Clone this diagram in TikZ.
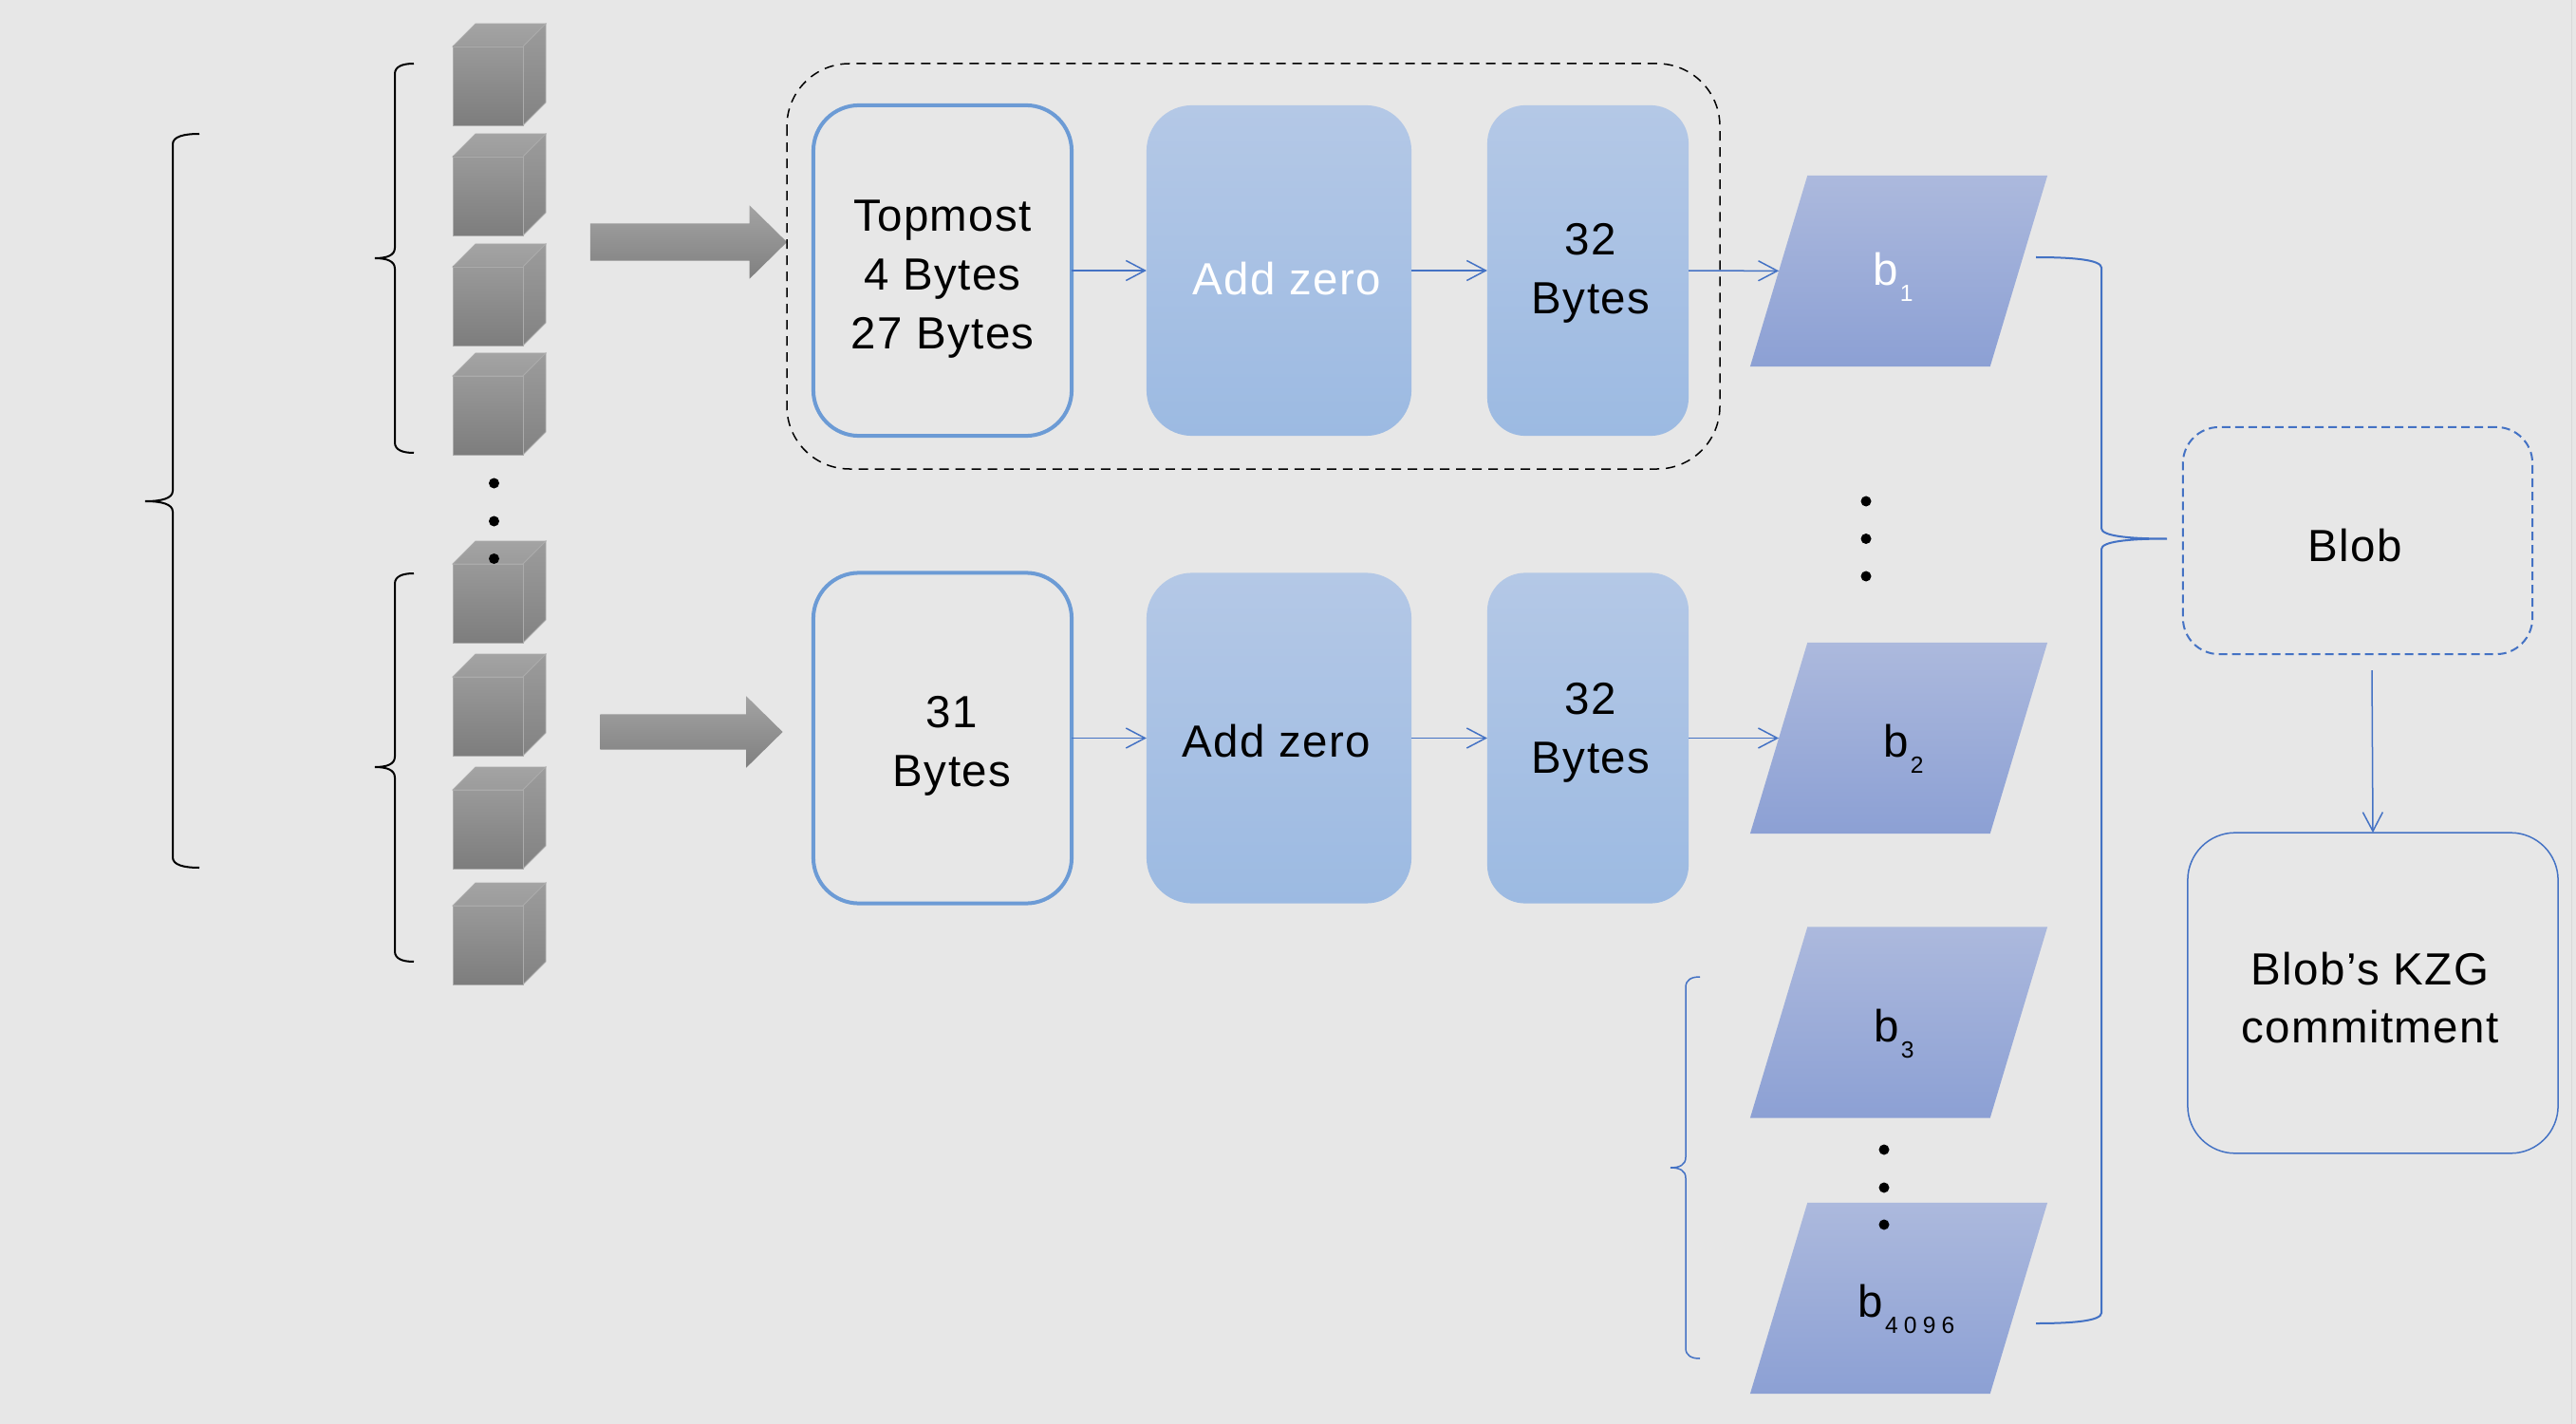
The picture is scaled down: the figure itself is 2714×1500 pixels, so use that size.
\documentclass[tikz,border=0pt]{standalone}
\usepackage{fontspec}
\setmainfont{Liberation Sans}[LetterSpace=3]
\usetikzlibrary{shapes.geometric}
\usetikzlibrary{shapes.arrows}
\usetikzlibrary{arrows.meta}

\definecolor{pagegray}{HTML}{E7E7E7}
\definecolor{linkblue}{HTML}{4472C4}
\definecolor{edgeblue}{HTML}{6C9BD5}
\definecolor{fillTop}{HTML}{B4C8E6}
\definecolor{fillBot}{HTML}{9CBAE2}
\definecolor{chunkTop}{HTML}{ACB9DD}
\definecolor{chunkBot}{HTML}{8CA0D4}

\tikzset{
    cube/.pic = {
        \path[top color = black!36, bottom color = black!39, draw = black!33, line width = 0.008cm] (0,24) -- (24,0) -- (98,0) -- (74,24) -- cycle;
        \path[top color = black!39, bottom color = black!49, draw = black!33, line width = 0.008cm] (74,24) -- (98,0) -- (98,83) -- (74,107) -- cycle;
        \path[top color = black!40, bottom color = black!51, draw = black!33, line width = 0.008cm] (0,24) rectangle (74,107);
    }
}

\newcommand{\bracepath}[7][]{
    \draw[#1] ({#2+#4},#5) .. controls ({#2+#4*0.4},#5) and (#2,{#5+3}) .. (#2,{#5+11})
        -- (#2,{#6-11}) .. controls (#2,{#6-3}) and ({#2+#3*0.4},#6) .. ({#2+#3},#6)
        .. controls ({#2+#3*0.4},#6) and (#2,{#6+3}) .. (#2,{#6+11})
        -- (#2,{#7-11}) .. controls (#2,{#7-3}) and ({#2+#4*0.4},#7) .. ({#2+#4},#7);
}
\newcommand{\subidx}[1]{\hspace{0.6pt}\raisebox{-4.8pt}{\fontsize{7}{8}\selectfont\addfontfeature{LetterSpace=25}#1}}

\begin{document}
\begin{tikzpicture}[
        x = 0.01cm, y = -0.01cm,
        font = \fontsize{13.5}{17.6}\selectfont,
        >={Straight Barb[length = 0.2cm, width = 0.21cm]},
        txt/.style = {align = center, inner sep = 0},
        whitebox/.style = {shape = rectangle, draw = edgeblue, line width = 0.04cm, rounded corners = 0.48cm, minimum width = 2.72cm, minimum height = 3.48cm, inner sep = 0, outer sep = 0},
        addbox/.style = {shape = rectangle, rounded corners = 0.48cm, minimum width = 2.79cm, minimum height = 3.48cm, inner sep = 0, outer sep = 0, top color = fillTop, bottom color = fillBot},
        sizebox/.style = {addbox, rounded corners = 0.4cm, minimum width = 2.12cm},
        chunk/.style = {shape = trapezium, trapezium left angle = 72.6, trapezium right angle = 107.4, top color = chunkTop, bottom color = chunkBot, minimum width = 3.13cm, minimum height = 2.01cm, inner sep = 0.1cm, outer sep = 0, trapezium stretches = true},
        bigarrow/.style = {shape = single arrow, top color = black!36, bottom color = black!50, minimum width = 0.76cm, single arrow head extend = 0.19cm, single arrow tip angle = 89, single arrow head indent = 0, inner xsep = 0, inner ysep = 0.19cm, outer sep = 0},
        flow/.style = {->, draw = linkblue, line width = 0.015cm},
        dotmark/.style = {shape = circle, fill = black, minimum size = 0.11cm, inner sep = 0},
    ]
    \useasboundingbox (0,0) rectangle (2714,1500);
    \fill[pagegray] (0,0) rectangle (2714,1500);
    \fill[black!15] (2708.5,0) rectangle (2710,1500);

    \foreach \cy in {25,141,257,372,570,689,808,930}
        \pic at (477,\cy) {cube};
    \foreach \dy in {509,549,588.5}
        \node[dotmark] at (520.5,\dy) {};

    \bracepath[black, line width = 0.02cm]{182}{-29}{28}{141}{528}{914}
    \bracepath[black, line width = 0.02cm]{416}{-21}{20}{67}{272}{477}
    \bracepath[black, line width = 0.02cm]{416}{-21}{20}{604}{808}{1013}

    \node[bigarrow, minimum height = 2.07cm] (pushA) at (715.5,255) {};
    \node[bigarrow, minimum height = 1.92cm, minimum width = 0.74cm, inner ysep = 0.18cm] (pushB) at (719,771) {};

    % first row
    \draw[black, dash pattern = on 0.1cm off 0.07cm, line width = 0.015cm, rounded corners = 0.66cm] (829,67) rectangle (1812,494);
    \node[whitebox, label = {[txt, yshift = -0.09cm]center:Topmost\\4 Bytes\\27 Bytes}] (topA) at (993,285) {};
    \node[addbox, label = {[txt, text = white, xshift = 0.085cm, yshift = -0.09cm]center:Add zero}] (addA) at (1347.5,285) {};
    \node[sizebox, label = {[txt, xshift = 0.03cm, yshift = -0.03cm]center:32\\Bytes}] (sizeA) at (1673,285) {};
    \node[chunk] (chunkA) [label = {[txt, text = white, xshift = -0.06cm, yshift = -0.06cm]center:b\subidx{1}}] at (2000.5,285.5) {};

    % second row
    \node[whitebox, label = {[txt, xshift = 0.1cm, yshift = -0.085cm]center:31\\Bytes}] (topB) at (993,777.5) {};
    \node[addbox, label = {[txt, xshift = -0.025cm, yshift = -0.035cm]center:Add zero}] (addB) at (1347.5,777.5) {};
    \node[sizebox, label = {[txt, xshift = 0.03cm, yshift = 0.06cm]center:32\\Bytes}] (sizeB) at (1673,777.5) {};
    \node[chunk] (chunkB) [label = {[txt, xshift = 0.05cm, yshift = -0.11cm]center:b\subidx{2}}] at (2000.5,777.5) {};

    \foreach \dy in {528,567.5,607}
        \node[dotmark] at (1966,\dy) {};

    % remaining chunks
    \bracepath[linkblue, line width = 0.015cm]{1776}{-16}{15}{1029}{1230}{1431}
    \node[chunk] (chunkC) [label = {[txt, xshift = -0.05cm, yshift = -0.12cm]center:b\subidx{3}}] at (2000.5,1077) {};
    \node[chunk] (chunkD) [label = {[txt, xshift = 0.08cm, yshift = -0.11cm]center:b\subidx{4096}}] at (2000.5,1367.5) {};
    \foreach \dy in {1211,1251,1290}
        \node[dotmark] at (1985,\dy) {};

    \bracepath[linkblue, line width = 0.02cm]{2214}{69}{-69}{271}{567.5}{1394}

    \node[whitebox, draw = linkblue, line width = 0.02cm, dash pattern = on 0.09cm off 0.05cm, rounded corners = 0.38cm, minimum width = 3.68cm, minimum height = 2.39cm, label = {[txt, xshift = -0.03cm, yshift = -0.05cm]center:Blob}] (blob) at (2484,569.5) {};
    \node[whitebox, draw = linkblue, line width = 0.015cm, rounded corners = 0.5cm, minimum width = 3.9cm, minimum height = 3.375cm, label = {[txt, xshift = -0.03cm, yshift = -0.05cm]center:Blob's KZG\\commitment}] (kzg) at (2500,1046) {};

    \draw[flow] (topA) -- (addA);
    \draw[flow] (addA) -- (sizeA);
    \draw[flow] (sizeA) -- (chunkA);
    \draw[flow] (topB) -- (addB);
    \draw[flow] (addB) -- (sizeB);
    \draw[flow] (sizeB) -- (chunkB);
    \draw[flow] ([xshift = 0.15cm, yshift = -0.17cm]blob.south) -- (kzg.north);
\end{tikzpicture}
\end{document}
